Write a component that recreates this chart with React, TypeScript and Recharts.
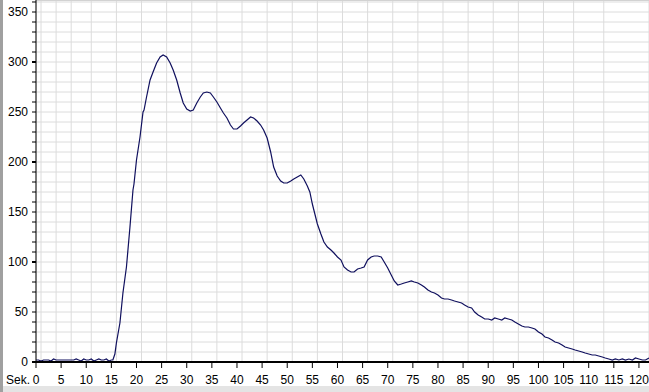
import { LineChart, Line, XAxis, YAxis, CartesianGrid } from 'recharts';

// time in seconds and measured signal
const seconds = [
    0, 0.5, 1, 1.5, 2, 2.5, 3, 3.5, 4, 4.5, 5, 5.5, 6, 6.5, 7, 7.5, 8, 8.5, 9, 9.5, 10, 10.5, 11, 11.5, 12, 12.5, 13, 13.5, 14, 14.5, 15,
    15.3, 15.7, 16, 16.7, 17.3, 18, 18.7, 19.3, 19.5, 20, 20.7, 21.3, 21.5, 22, 22.7, 23.3, 24, 24.7, 25.3, 26, 26.7, 27.3, 28, 28.7,
    29.3, 30, 30.7, 31.3, 32, 32.7, 33.3, 34, 34.7, 35.3, 36, 36.7, 37.3, 38, 38.7, 39.3, 40, 40.7, 41.3, 42, 42.7, 43.3, 44, 44.7,
    45.3, 46, 46.7, 47.3, 48, 48.7, 49.3, 50, 50.7, 51.3, 52, 52.7, 53.3, 54, 54.5, 55, 55.5, 56, 56.7, 57.3, 58, 58.7, 59.3, 60,
    60.7, 61.3, 62, 62.7, 63.3, 64, 64.7, 65.3, 66, 66.7, 67.3, 68, 68.7, 69.3, 70, 70.7, 71.3, 72, 72.7, 73.3, 74, 74.7, 75.3, 76,
    76.7, 77.3, 78, 78.7, 79.3, 80, 80.7, 81.3, 82, 82.7, 83.3, 84, 84.7, 85.3, 86, 86.7, 87.3, 88, 88.7, 89.3, 90, 90.7, 91.3, 92,
    92.7, 93.3, 94, 94.7, 95.3, 96, 96.7, 97.3, 98, 98.7, 99.3, 100, 100.7, 101.3, 102, 102.7, 103.3, 104, 104.7, 105.3, 106, 106.7,
    107.3, 108, 108.7, 109.3, 110, 110.7, 111.3, 112, 112.7, 113.3, 114, 114.7, 115.3, 116, 116.7, 117.3, 118, 118.7, 119.3, 120,
    120.7, 121.3, 122,
];

const signal = [
    2, 2, 1, 2, 2, 2, 1, 3, 2, 2, 2, 2, 2, 2, 2, 2, 3, 2, 1, 3, 2, 2, 3, 1, 2, 3, 2, 2, 3, 1, 2,
    2, 8, 19, 39, 69, 95, 135, 172, 178, 202, 225, 250, 252, 265, 282, 290, 299, 305, 307, 305, 299, 292, 282, 269,
    259, 253, 251, 252, 259, 265, 269, 270, 269, 265, 260, 254, 249, 244, 237, 233, 233, 236, 239, 242, 245, 244, 241, 237,
    232, 224, 210, 195, 186, 181, 179, 179, 181, 183, 185, 187, 183, 176, 170, 158, 148, 138, 128, 120, 115, 112, 109, 105,
    102, 95, 92, 90, 90, 93, 94, 95, 102, 105, 106, 106, 105, 100, 94, 87, 81, 77, 78, 79, 80, 81, 80, 79,
    77, 75, 72, 70, 69, 67, 64, 63, 63, 62, 61, 60, 59, 57, 55, 54, 50, 47, 45, 43, 43, 42, 44, 43,
    42, 44, 43, 42, 40, 38, 36, 35, 35, 34, 33, 30, 28, 25, 24, 22, 20, 19, 17, 15, 14, 13,
    12, 11, 10, 9, 8, 7, 7, 6, 5, 4, 3, 2, 3, 2, 3, 2, 3, 2, 4, 3,
    2, 2, 4,
];

const xTicks = [0, 5, 10, 15, 20, 25, 30, 35, 40, 45, 50, 55, 60, 65, 70, 75, 80, 85, 90, 95, 100, 105, 110, 115, 120];
const yTicks = [0, 10, 20, 30, 40, 50, 60, 70, 80, 90, 100, 110, 120, 130, 140, 150, 160, 170, 180, 190, 200, 210, 220, 230, 240, 250, 260, 270, 280, 290, 300, 310, 320, 330, 340, 350, 360];
const majorY = [100, 200, 300];

const data = seconds.map((t, i) => ({ t, v: signal[i] }));
const gridSeconds = Array.from({ length: 123 }, (_, i) => i);

const FONT = '"Liberation Sans", Arial, sans-serif';

function YTick(props: any) {
    const { x, y, payload } = props;
    const val = payload.value as number;
    return (
        <g>
            <line x1={x + 4} x2={x + 8} y1={y} y2={y} stroke="#000" strokeWidth={val % 100 === 0 ? 2 : 1} />
            {val % 50 === 0 && (
                <text x={x} y={y} dy="0.35em" textAnchor="end" fontSize={12} fontFamily={FONT} fill="#000">
                    {val}
                </text>
            )}
        </g>
    );
}

export default function App() {
    return (
        <div style={{ position: 'fixed', left: 0, top: 0, width: 649, height: 392, background: '#fff', overflow: 'hidden' }}>
            <LineChart width={649} height={392} data={data} margin={{ top: 0, right: 0, bottom: 6, left: 0 }}>
                <XAxis xAxisId="grid" type="number" dataKey="t" domain={[0, 122]} ticks={gridSeconds} hide />
                <YAxis yAxisId="major" type="number" domain={[0, 362]} ticks={majorY} hide />
                <CartesianGrid xAxisId="grid" stroke="#dcdcdc" strokeWidth={1} />
                <CartesianGrid xAxisId="grid" yAxisId="major" vertical={false} stroke="#d2d2d2" strokeWidth={2} />
                <XAxis
                    type="number"
                    dataKey="t"
                    domain={[0, 122]}
                    ticks={xTicks}
                    allowDataOverflow
                    height={24}
                    tickSize={6}
                    tickMargin={7}
                    axisLine={{ stroke: '#000', strokeWidth: 2 }}
                    tickLine={{ stroke: '#000' }}
                    tick={{ fill: '#000', fontSize: 12, fontFamily: FONT }}
                    interval={0}
                />
                <YAxis
                    type="number"
                    domain={[0, 362]}
                    ticks={yTicks}
                    allowDataOverflow
                    width={36}
                    tickSize={4}
                    tickMargin={4}
                    axisLine={{ stroke: '#000' }}
                    tickLine={false}
                    tick={<YTick />}
                    interval={0}
                />
                <Line
                    type="linear"
                    dataKey="v"
                    stroke="#10105e"
                    strokeWidth={1.2}
                    dot={false}
                    isAnimationActive={false}
                />
            </LineChart>
            <svg width={649} height={392} style={{ position: 'absolute', left: 0, top: 0, pointerEvents: 'none' }}>
                <text x={6} y={384} fontSize={12} fontFamily={FONT} fill="#000">Sek.</text>
                <rect x={0} y={386} width={649} height={6} fill="#e4e4e4" />
                <rect x={0} y={0} width={3} height={392} fill="#a0a0a0" />
            </svg>
        </div>
    );
}
